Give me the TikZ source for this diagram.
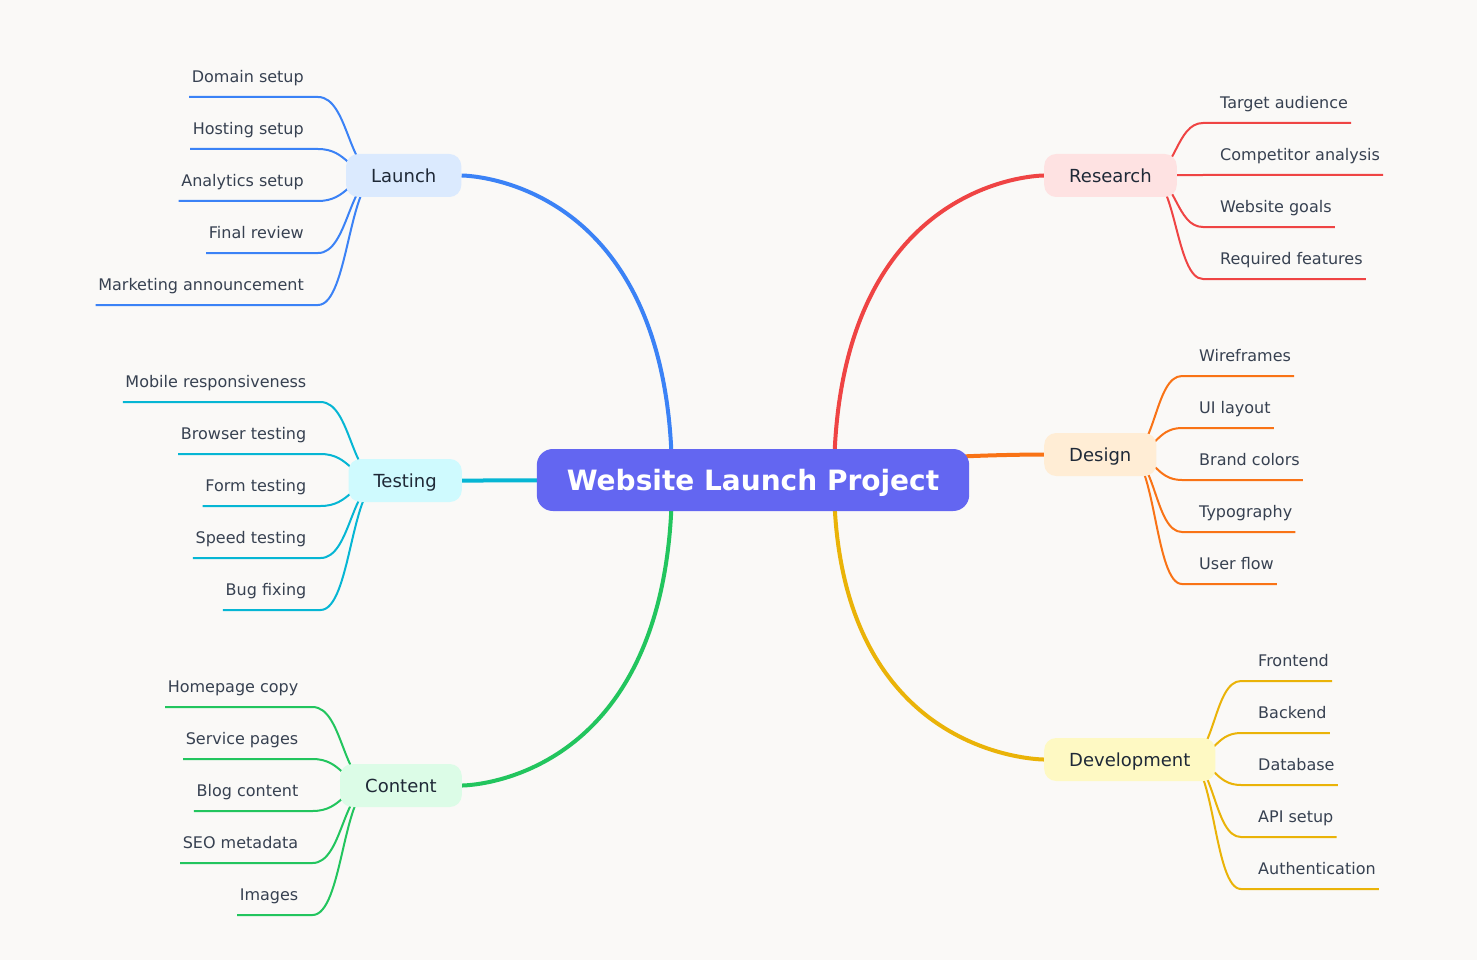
\documentclass[tikz,border=0pt]{standalone}
\usepackage{fontspec}
\setmainfont{DejaVu Sans}
\usetikzlibrary{calc}
\pgfdeclarelayer{background}
\pgfsetlayers{background,main}
\definecolor{bgc}{HTML}{FAF9F7}
\definecolor{rootc}{HTML}{6366F1}
\definecolor{catText}{HTML}{1F2937}
\definecolor{leafText}{HTML}{374151}
\definecolor{launchC}{HTML}{3B82F6}\definecolor{launchF}{HTML}{DBEAFE}
\definecolor{testC}{HTML}{06B6D4}\definecolor{testF}{HTML}{CFFAFE}
\definecolor{contC}{HTML}{22C55E}\definecolor{contF}{HTML}{DCFCE7}
\definecolor{resC}{HTML}{EF4444}\definecolor{resF}{HTML}{FEE2E2}
\definecolor{desC}{HTML}{F97316}\definecolor{desF}{HTML}{FFEDD5}
\definecolor{devC}{HTML}{EAB308}\definecolor{devF}{HTML}{FEF9C3}
\begin{document}
\begin{tikzpicture}[x=1pt,y=-1pt,
  rootbox/.style={fill=rootc, rounded corners=16pt, minimum height=62pt, inner xsep=30pt, inner ysep=0pt, text height=20pt, text depth=0pt, text=white, font=\fontsize{28}{32}\selectfont\bfseries},
  catbox/.style={rounded corners=12pt, minimum height=43pt, inner xsep=25pt, inner ysep=0pt, text height=14pt, text depth=0pt, text=catText, font=\fontsize{18}{22}\selectfont},
  leaftext/.style={inner sep=0pt, text=leafText, font=\fontsize{16}{19}\selectfont},
  trunk/.style={line width=4pt},
  twig/.style={line width=2pt},
]
\useasboundingbox (0,0) rectangle (1477,960);
\begin{pgfonlayer}{background}
\fill[bgc] (0,0) rectangle (1477,960);
\end{pgfonlayer}

% root and categories
\node[rootbox] (root) at (753,480) {Website Launch Project};
\node[catbox, fill=launchF, anchor=east] (launch) at (461.5,175.5) {Launch};
\node[catbox, fill=testF, anchor=east] (testing) at (462,480.5) {Testing};
\node[catbox, fill=contF, anchor=east] (content) at (462,785.5) {Content};
\node[catbox, fill=resF, anchor=west] (research) at (1044,175.5) {Research};
\node[catbox, fill=desF, anchor=west] (design) at (1044,454.5) {Design};
\node[catbox, fill=devF, anchor=west] (development) at (1044,759.5) {Development};

\coordinate (rl) at ($(root.center)+(-81,0)$);
\coordinate (rr) at ($(root.center)+(81,0)$);
\coordinate (launchin) at ($(launch.west)+(33,0)$);
\coordinate (testingin) at ($(testing.west)+(33,0)$);
\coordinate (contentin) at ($(content.west)+(33,0)$);
\coordinate (researchin) at ($(research.east)+(-28,0)$);
\coordinate (designin) at ($(design.east)+(-28,0)$);
\coordinate (developmentin) at ($(development.east)+(-28,0)$);

% leaves
\foreach \t [count=\i] in {Domain setup,Hosting setup,Analytics setup,Final review,Marketing announcement}
  \node[leaftext, anchor=base east] (launch-\i) at (304,{82.5+(\i-1)*52}) {\t};
\foreach \t [count=\i] in {Mobile responsiveness,Browser testing,Form testing,Speed testing,Bug fixing}
  \node[leaftext, anchor=base east] (testing-\i) at (306.5,{387.5+(\i-1)*52}) {\t};
\foreach \t [count=\i] in {Homepage copy,Service pages,Blog content,SEO metadata,Images}
  \node[leaftext, anchor=base east] (content-\i) at (298.5,{692.5+(\i-1)*52}) {\t};
\foreach \t [count=\i] in {Target audience,Competitor analysis,Website goals,Required features}
  \node[leaftext, anchor=base west] (research-\i) at (1220,{108.5+(\i-1)*52}) {\t};
\foreach \t [count=\i] in {Wireframes,UI layout,Brand colors,Typography,User flow}
  \node[leaftext, anchor=base west] (design-\i) at (1199,{361.5+(\i-1)*52}) {\t};
\foreach \t [count=\i] in {Frontend,Backend,Database,API setup,Authentication}
  \node[leaftext, anchor=base west] (development-\i) at (1258,{666.5+(\i-1)*52}) {\t};

\begin{pgfonlayer}{background}
% trunks
\draw[trunk, launchC] (rl) .. controls (rl |- launch.east) and (launch.east) .. (launch.east);
\draw[trunk, testC] (rl) .. controls (rl |- testing.east) and (testing.east) .. (testing.east);
\draw[trunk, contC] (rl) .. controls (rl |- content.east) and (content.east) .. (content.east);
\draw[trunk, resC] (rr) .. controls (rr |- research.west) and (research.west) .. (research.west);
\draw[trunk, desC] (rr) .. controls (rr |- design.west) and (design.west) .. (design.west);
\draw[trunk, devC] (rr) .. controls (rr |- development.west) and (development.west) .. (development.west);
% twigs, left side
\foreach \p/\c in {launch/launchC,testing/testC,content/contC}
  \foreach \i in {1,...,5}
    \draw[twig, \c] ($(\p-\i.base west)+(-2.5,14.5)$) -- ($(\p-\i.base east)+(14,14.5)$)
      .. controls +(30.5,0) and +(-30.5,0) .. (\p in);
% twigs, right side
\foreach \i in {1,...,4}
  \draw[twig, resC] ($(research-\i.base east)+(3,14.5)$) -- ($(research-\i.base west)+(-17,14.5)$)
    .. controls +(-27,0) and +(27,0) .. (researchin);
\foreach \p/\c in {design/desC,development/devC}
  \foreach \i in {1,...,5}
    \draw[twig, \c] ($(\p-\i.base east)+(3,14.5)$) -- ($(\p-\i.base west)+(-17,14.5)$)
      .. controls +(-27,0) and +(27,0) .. (\p in);
\end{pgfonlayer}
\end{tikzpicture}
\end{document}
